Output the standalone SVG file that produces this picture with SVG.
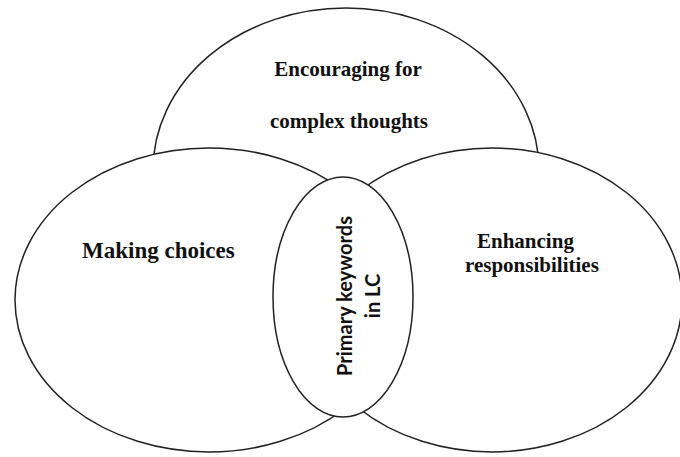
<svg xmlns="http://www.w3.org/2000/svg" width="680" height="457" viewBox="0 0 680 457">
<style>
.e{fill:#fff;stroke:#222;stroke-width:1.5}
.t{font-family:"Liberation Serif","Times New Roman",serif;font-weight:bold;font-size:21px;fill:#111}
.c{font-family:Lato,"Open Sans",sans-serif;font-weight:bold;font-size:20px;fill:#111;text-anchor:middle}
</style>
<rect width="680" height="457" fill="#fff"/>
<g id="top">
<ellipse class="e" cx="346" cy="170" rx="193" ry="162"/>
<text class="t" x="348" y="76" text-anchor="middle">Encouraging for</text>
<text class="t" x="349" y="128" text-anchor="middle">complex thoughts</text>
</g>
<g id="left">
<ellipse class="e" cx="209" cy="300" rx="194" ry="152"/>
<text class="t" x="82" y="258" style="font-size:23px">Making choices</text>
</g>
<g id="right">
<ellipse class="e" cx="492" cy="300" rx="190" ry="152"/>
<text class="t" x="477" y="248">Enhancing</text>
<text class="t" x="465" y="272">responsibilities</text>
</g>
<g id="center">
<ellipse class="e" cx="343" cy="297" rx="70" ry="120"/>
<text class="c" transform="translate(352,296) rotate(-90)">Primary keywords</text>
<text class="c" transform="translate(380,296) rotate(-90)">in LC</text>
</g>
<g id="connectors"/>
</svg>
